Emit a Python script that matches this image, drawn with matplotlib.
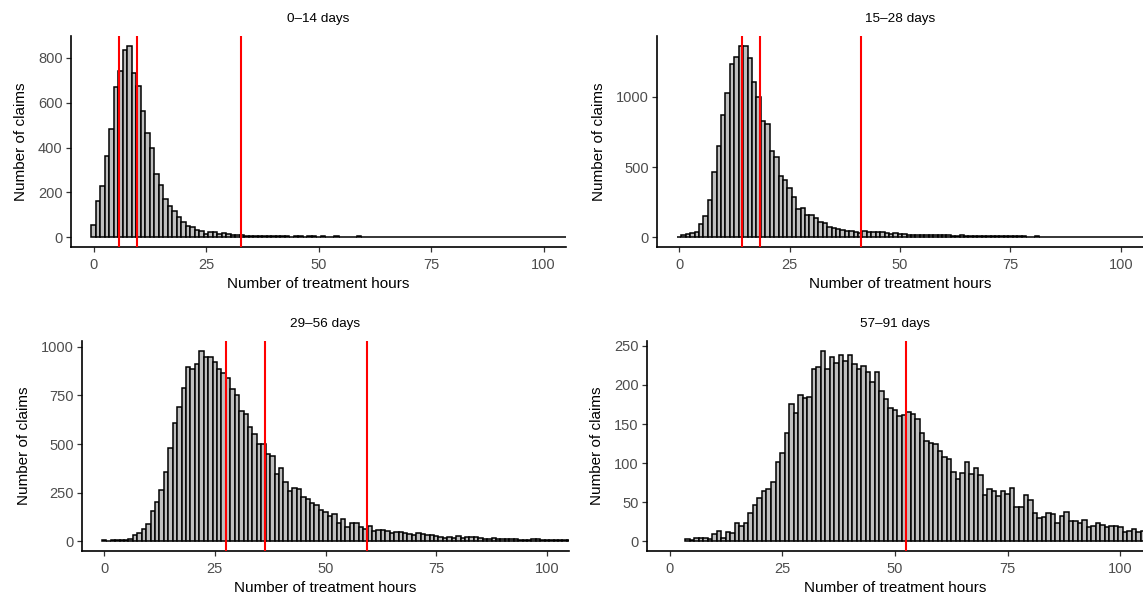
import matplotlib
matplotlib.use("Agg")
import matplotlib.pyplot as plt
import numpy as np

plt.rcParams['font.family'] = ['Liberation Sans', 'DejaVu Sans']

titles = ["0\u201314 days", "15\u201328 days", "29\u201356 days", "57\u201391 days"]

start_0_14 = 0
counts_0_14 = [55, 164, 229, 364, 482, 671, 739, 836, 854, 730, 675, 565, 464, 400, 283, 232, 172, 141,
               116, 89, 70, 51, 45, 33, 30, 15, 22, 24, 15, 19, 13, 12, 10, 10, 8, 8, 7, 6, 7, 5, 6, 5,
               6, 5, 4, 5, 5, 4, 6, 5, 4, 5, 4, 4, 5, 4, 3, 4, 4, 5, 3, 4, 3, 4, 3, 3, 4, 3, 3, 3, 4, 3,
               3, 2, 3, 3, 2, 3, 2, 2, 3, 2, 2, 3, 2, 2, 2, 3, 2, 2, 2, 2, 2, 2, 3, 2, 2, 2, 2, 2, 2, 2,
               1, 2, 2, 2]
lines_0_14 = [5.7, 9.7, 32.7]

start_15_28 = 0
counts_15_28 = [5, 17, 24, 29, 40, 93, 152, 264, 469, 652, 869, 1026, 1233, 1288, 1364, 1366, 1276,
                1105, 1002, 831, 805, 617, 574, 438, 412, 350, 286, 205, 212, 162, 160, 138, 110, 102,
                74, 64, 57, 50, 48, 45, 36, 29, 43, 38, 38, 36, 36, 33, 24, 29, 25, 22, 20, 18, 19, 17,
                16, 18, 15, 15, 14, 16, 13, 12, 14, 12, 11, 10, 11, 9, 10, 9, 8, 9, 8, 8, 7, 7, 8, 6, 6,
                7, 5, 5, 6, 5, 4, 5, 4, 4, 5, 4, 4, 3, 4, 3, 4, 3, 3, 3, 3, 2, 3, 3, 2, 3]
lines_15_28 = [14.3, 18.4, 41.2]

start_29_56 = 0
counts_29_56 = [5, 3, 7, 9, 9, 9, 15, 31, 41, 63, 89, 158, 204, 264, 358, 479, 607, 693, 791, 895, 887,
                914, 981, 949, 950, 923, 887, 868, 840, 784, 750, 669, 657, 588, 552, 503, 503, 449,
                437, 348, 376, 304, 259, 274, 268, 226, 220, 197, 185, 161, 151, 132, 141, 94, 117, 74,
                94, 93, 74, 63, 81, 53, 57, 57, 55, 46, 48, 48, 41, 38, 31, 43, 38, 34, 31, 27, 22, 19,
                22, 19, 26, 19, 24, 21, 24, 19, 15, 15, 17, 15, 14, 14, 15, 14, 10, 7, 7, 12, 12, 10,
                10, 10, 9, 7, 7, 7]
lines_29_56 = [27.5, 36.4, 59.3]

start_57_91 = 4
counts_57_91 = [3, 2, 4, 5, 5, 3, 9, 13, 5, 12, 11, 23, 20, 23, 36, 46, 55, 65, 67, 76, 101, 113, 138,
                176, 164, 187, 183, 185, 221, 223, 244, 221, 236, 228, 238, 231, 238, 227, 220, 224,
                217, 204, 217, 192, 182, 170, 168, 160, 162, 165, 163, 156, 138, 129, 126, 124, 115,
                108, 106, 89, 80, 87, 102, 86, 94, 85, 60, 67, 65, 58, 65, 61, 68, 44, 44, 59, 53, 36,
                30, 31, 37, 35, 24, 32, 38, 26, 26, 23, 28, 18, 20, 23, 21, 18, 20, 20, 19, 12, 13, 16,
                12, 13]
lines_57_91 = [52.4]

x_ticks = [0, 25, 50, 75, 100]
y_ticks_0_14 = [0, 200, 400, 600, 800]
y_ticks_15_28 = [0, 500, 1000]
y_ticks_29_56 = [0, 250, 500, 750, 1000]
y_ticks_57_91 = [0, 50, 100, 150, 200, 250]

panels = [
    (titles[0], start_0_14, counts_0_14, lines_0_14, y_ticks_0_14, [71, 36, 566, 247]),
    (titles[1], start_15_28, counts_15_28, lines_15_28, y_ticks_15_28, [657, 36, 1143, 247]),
    (titles[2], start_29_56, counts_29_56, lines_29_56, y_ticks_29_56, [82, 341, 569, 551]),
    (titles[3], start_57_91, counts_57_91, lines_57_91, y_ticks_57_91, [647, 341, 1143, 551]),
]

W, H = 1143, 602
fig = plt.figure(figsize=(W / 100, H / 100), dpi=100)

for title, start, counts, vlines, yticks, box in panels:
    l, t, r, b = box
    ax = fig.add_axes([l / W, (H - b) / H, (r - l) / W, (b - t) / H])
    x = start + np.arange(len(counts))
    ax.bar(x, counts, width=1.0, color='#BEBEBE', edgecolor='black', linewidth=1.1, zorder=2)
    for v in vlines:
        ax.axvline(v, color='#FF0000', lw=1.5, zorder=3)
    m = max(counts)
    ax.set_ylim(-0.05 * m, 1.05 * m)
    ax.set_xlim(-5, 105)
    ax.set_xticks(x_ticks)
    ax.set_yticks(yticks)
    ax.spines['top'].set_visible(False)
    ax.spines['right'].set_visible(False)
    for s in ['left', 'bottom']:
        ax.spines[s].set_linewidth(1.2)
        ax.spines[s].set_color('black')
    ax.tick_params(axis='both', length=3.5, width=0.9, color='#333333', labelcolor='#4D4D4D',
                   labelsize=10.5)
    ax.tick_params(axis='x', pad=4.5)
    ax.tick_params(axis='y', pad=2.5)
    ax.set_xlabel("Number of treatment hours", fontsize=11, color='black', labelpad=3.5)
    ax.set_ylabel("Number of claims", fontsize=11, color='black', labelpad=7)
    ax.set_title(title, fontsize=9.7, color='black', pad=10)

fig.savefig("out.png", dpi=100)
